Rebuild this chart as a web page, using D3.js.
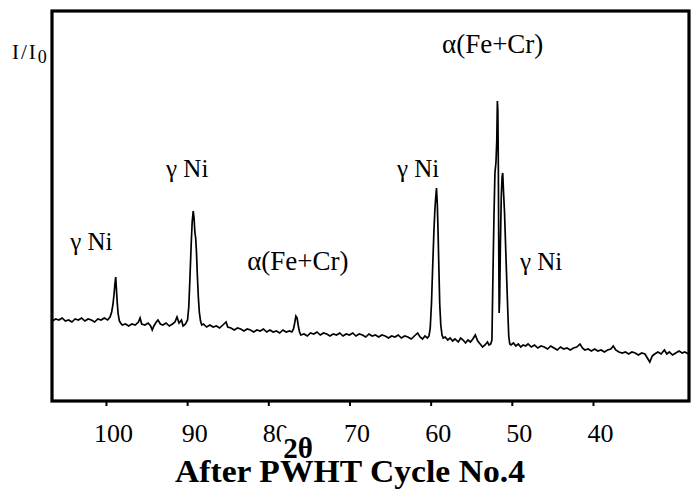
<!DOCTYPE html>
<html>
<head>
<meta charset="utf-8">
<script src="https://cdn.jsdelivr.net/npm/d3@7"></script>
<style>
  body { margin: 0; background: #fff; }
  svg { display: block; }
  text { font-family: "Liberation Serif", "Times New Roman", serif; fill: #000; }
</style>
</head>
<body>
<div id="chart"></div>
<script>
// 2-theta positions (degrees) and intensities
const twoTheta = [
  106.6, 106.2, 105.8, 105.4, 105.0, 104.6, 104.2, 103.8, 103.4, 103.0, 102.6, 102.2, 101.8, 101.4, 101.0, 100.6, 100.2, 99.8, 99.5,
  99.3, 99.15, 99.0, 98.9, 98.8, 98.72, 98.62, 98.5, 98.35, 98.2,
  98.0, 97.6, 97.2, 96.8, 96.4, 96.0, 95.8, 95.6, 95.2, 94.8, 94.5, 94.3, 94.1, 93.8, 93.6, 93.3, 93.0, 92.6, 92.2, 91.8, 91.5, 91.25, 91.0, 90.7, 90.5, 90.2,
  89.95, 89.8, 89.65, 89.5, 89.38, 89.25, 89.15, 89.05, 88.95, 88.85, 88.75, 88.62, 88.5, 88.35, 88.2,
  88.0, 87.6, 87.2, 86.8, 86.4, 86.0, 85.6, 85.2, 85.0, 84.6, 84.2, 83.8, 83.4, 83.0, 82.6, 82.2, 81.8, 81.4, 81.0, 80.6, 80.2, 79.8, 79.4, 79.0, 78.6, 78.2, 77.8, 77.4, 77.1,
  76.9, 76.75, 76.6, 76.45, 76.3, 76.15, 76.0,
  75.6, 75.2, 74.8, 74.4, 74.0, 73.6, 73.2, 72.8, 72.4, 72.0, 71.6, 71.2, 70.8, 70.4, 70.0, 69.6, 69.2, 68.8, 68.4, 68.0, 67.6, 67.2, 66.8, 66.4, 66.0, 65.6, 65.2, 64.8, 64.4, 64.0, 63.6, 63.2, 62.8, 62.4, 62.0, 61.6, 61.3, 61.0, 60.7, 60.4,
  60.2, 60.05, 59.9, 59.75, 59.6, 59.48, 59.38, 59.28, 59.18, 59.08, 58.98, 58.88, 58.75, 58.6, 58.45,
  58.2, 57.9, 57.6, 57.3, 57.0, 56.6, 56.3, 56.0, 55.7, 55.4, 55.1, 54.8, 54.5, 54.2, 53.9, 53.6, 53.3, 53.0, 52.8,
  52.6, 52.45, 52.32, 52.2, 52.08, 51.95, 51.85, 51.78, 51.72, 51.66, 51.6, 51.56, 51.5, 51.4, 51.3, 51.2, 51.12, 51.02, 50.9, 50.78, 50.65, 50.5, 50.38, 50.25, 50.1,
  49.8, 49.5, 49.2, 48.9, 48.6, 48.3, 48.0, 47.6, 47.2, 46.8, 46.4, 46.0, 45.6, 45.2, 44.8, 44.4, 44.0, 43.6, 43.2, 42.8, 42.4, 42.0, 41.6, 41.3, 41.0, 40.6, 40.2,
  39.8, 39.4, 39.0, 38.6, 38.2, 37.8, 37.5, 37.2, 36.8, 36.4, 36.0, 35.6, 35.2, 34.8, 34.4, 34.0, 33.6, 33.3, 33.0, 32.7, 32.4, 32.0, 31.6, 31.2, 30.9, 30.6, 30.2, 29.8, 29.4, 29.0, 28.7, 28.2
];

const intensity = [
  81, 83, 82, 84, 81, 82, 80, 83, 82, 84, 81, 83, 82, 80, 83, 82, 84, 82, 85,
  90, 97, 108, 118, 125, 114, 100, 88, 81, 79,
  77, 78, 76, 78, 77, 80, 84, 78, 77, 79, 76, 72, 76, 80, 82, 78, 77, 79, 76, 78, 80, 85, 79, 82, 76, 78,
  82, 95, 125, 158, 180, 191, 184, 170, 164, 150, 128, 105, 90, 81, 77,
  78, 75, 77, 75, 76, 74, 77, 80, 75, 74, 72, 74, 73, 71, 73, 72, 70, 72, 71, 73, 70, 72, 70, 71, 69, 72, 70, 71, 70,
  73, 79, 86, 84, 76, 70, 67,
  68, 66, 69, 68, 70, 67, 69, 68, 66, 68, 67, 69, 66, 68, 67, 69, 66, 68, 67, 65, 68, 66, 67, 65, 67, 66, 64, 66, 65, 67, 64, 66, 65, 63, 66, 69, 65, 63, 66, 64,
  66, 74, 98, 135, 170, 192, 204, 214, 198, 168, 132, 98, 77, 67, 64,
  65, 62, 64, 61, 63, 60, 64, 62, 59, 62, 60, 63, 67, 61, 58, 55, 57, 60, 57,
  58, 62, 129, 185, 229, 240, 262, 301, 292, 235, 140, 89, 102, 160, 205, 225, 229, 210, 190, 160, 128, 92, 66, 58, 57,
  59, 56, 58, 55, 57, 56, 58, 55, 57, 54, 56, 55, 53, 56, 54, 52, 55, 53, 54, 52, 54, 55, 58, 54, 52, 53, 51,
  53, 51, 52, 50, 52, 53, 56, 52, 50, 49, 50, 48, 50, 49, 47, 49, 48, 44, 40, 46, 48, 50, 48, 52, 48, 50, 47, 49, 51, 49, 50, 48
];

const tickValues = [100, 90, 80, 70, 60, 50, 40];

// peak labels: [2theta of left edge, intensity of baseline]
const peakLabels = ["γ Ni", "γ Ni", "α(Fe+Cr)", "γ Ni", "α(Fe+Cr)", "γ Ni"];
const peakLabelAt = [[104.4, 152], [92.6, 225], [82.6, 132], [64.15, 225], [58.6, 349], [49.0, 132]];

function drawChart() {
  const width = 696;
  const height = 495;
  const frame = { left: 52, right: 689, top: 11, bottom: 401 };

  const svg = d3.select('#chart')
    .append('svg')
    .attr('width', width)
    .attr('height', height);

  const xScale = d3.scaleLinear()
    .domain([106.65, 28.17])
    .range([frame.left, frame.right]);

  const yScale = d3.scaleLinear()
    .domain([0, 390])
    .range([frame.bottom + 1, frame.top + 1]);

  const points = twoTheta.map((t, i) => [t, intensity[i]]);

  // the scan itself
  const line = d3.line()
    .x((d) => xScale(d[0]))
    .y((d) => yScale(d[1]));

  svg.append('path')
    .datum(points)
    .attr('fill', 'none')
    .attr('stroke', '#000')
    .attr('stroke-width', 1.7)
    .attr('d', line);

  // frame
  svg.append('rect')
    .attr('x', frame.left)
    .attr('y', frame.top)
    .attr('width', frame.right - frame.left)
    .attr('height', frame.bottom - frame.top)
    .attr('fill', 'none')
    .attr('stroke', '#000')
    .attr('stroke-width', 3.2);

  // x axis ticks + labels
  const xAxis = d3.axisBottom(xScale)
    .tickValues(tickValues)
    .tickSize(5)
    .tickPadding(0);

  const axisG = svg.append('g')
    .attr('transform', `translate(0, ${frame.bottom})`)
    .call(xAxis);

  axisG.select('.domain').remove();
  axisG.selectAll('.tick line').attr('stroke', '#000').attr('stroke-width', 2);
  axisG.selectAll('.tick text')
    .attr('y', 41)
    .attr('dy', 0)
    .attr('dx', 7)
    .attr('fill', '#000')
    .style('font-family', '"Liberation Serif", serif')
    .style('font-size', '26px');

  // peak labels
  svg.append('g')
    .selectAll('text')
    .data(peakLabels)
    .join('text')
    .attr('x', (d, i) => xScale(peakLabelAt[i][0]))
    .attr('y', (d, i) => yScale(peakLabelAt[i][1]))
    .style('font-size', (d) => d.startsWith('α') ? '27px' : '25px')
    .text((d) => d);

  // y label
  const yl = svg.append('text')
    .attr('x', 12)
    .attr('y', 59)
    .style('font-size', '21px')
    .style('letter-spacing', '2px')
    .text('I/I');
  yl.append('tspan')
    .attr('dy', 4)
    .style('font-size', '18px')
    .text('0');

  // x label sits over the lower part of the "80" tick label
  svg.append('rect')
    .attr('x', 281)
    .attr('y', 428)
    .attr('width', 35)
    .attr('height', 32)
    .attr('fill', '#fff');

  svg.append('text')
    .attr('x', 298)
    .attr('y', 458)
    .attr('text-anchor', 'middle')
    .style('font-size', '29px')
    .style('font-weight', 'bold')
    .text('2θ');

  svg.append('text')
    .attr('x', 175)
    .attr('y', 482)
    .attr('textLength', 350)
    .attr('lengthAdjust', 'spacingAndGlyphs')
    .style('font-size', '31px')
    .style('font-weight', 'bold')
    .text('After PWHT Cycle No.4');
}

document.addEventListener('DOMContentLoaded', drawChart);
</script>
</body>
</html>
